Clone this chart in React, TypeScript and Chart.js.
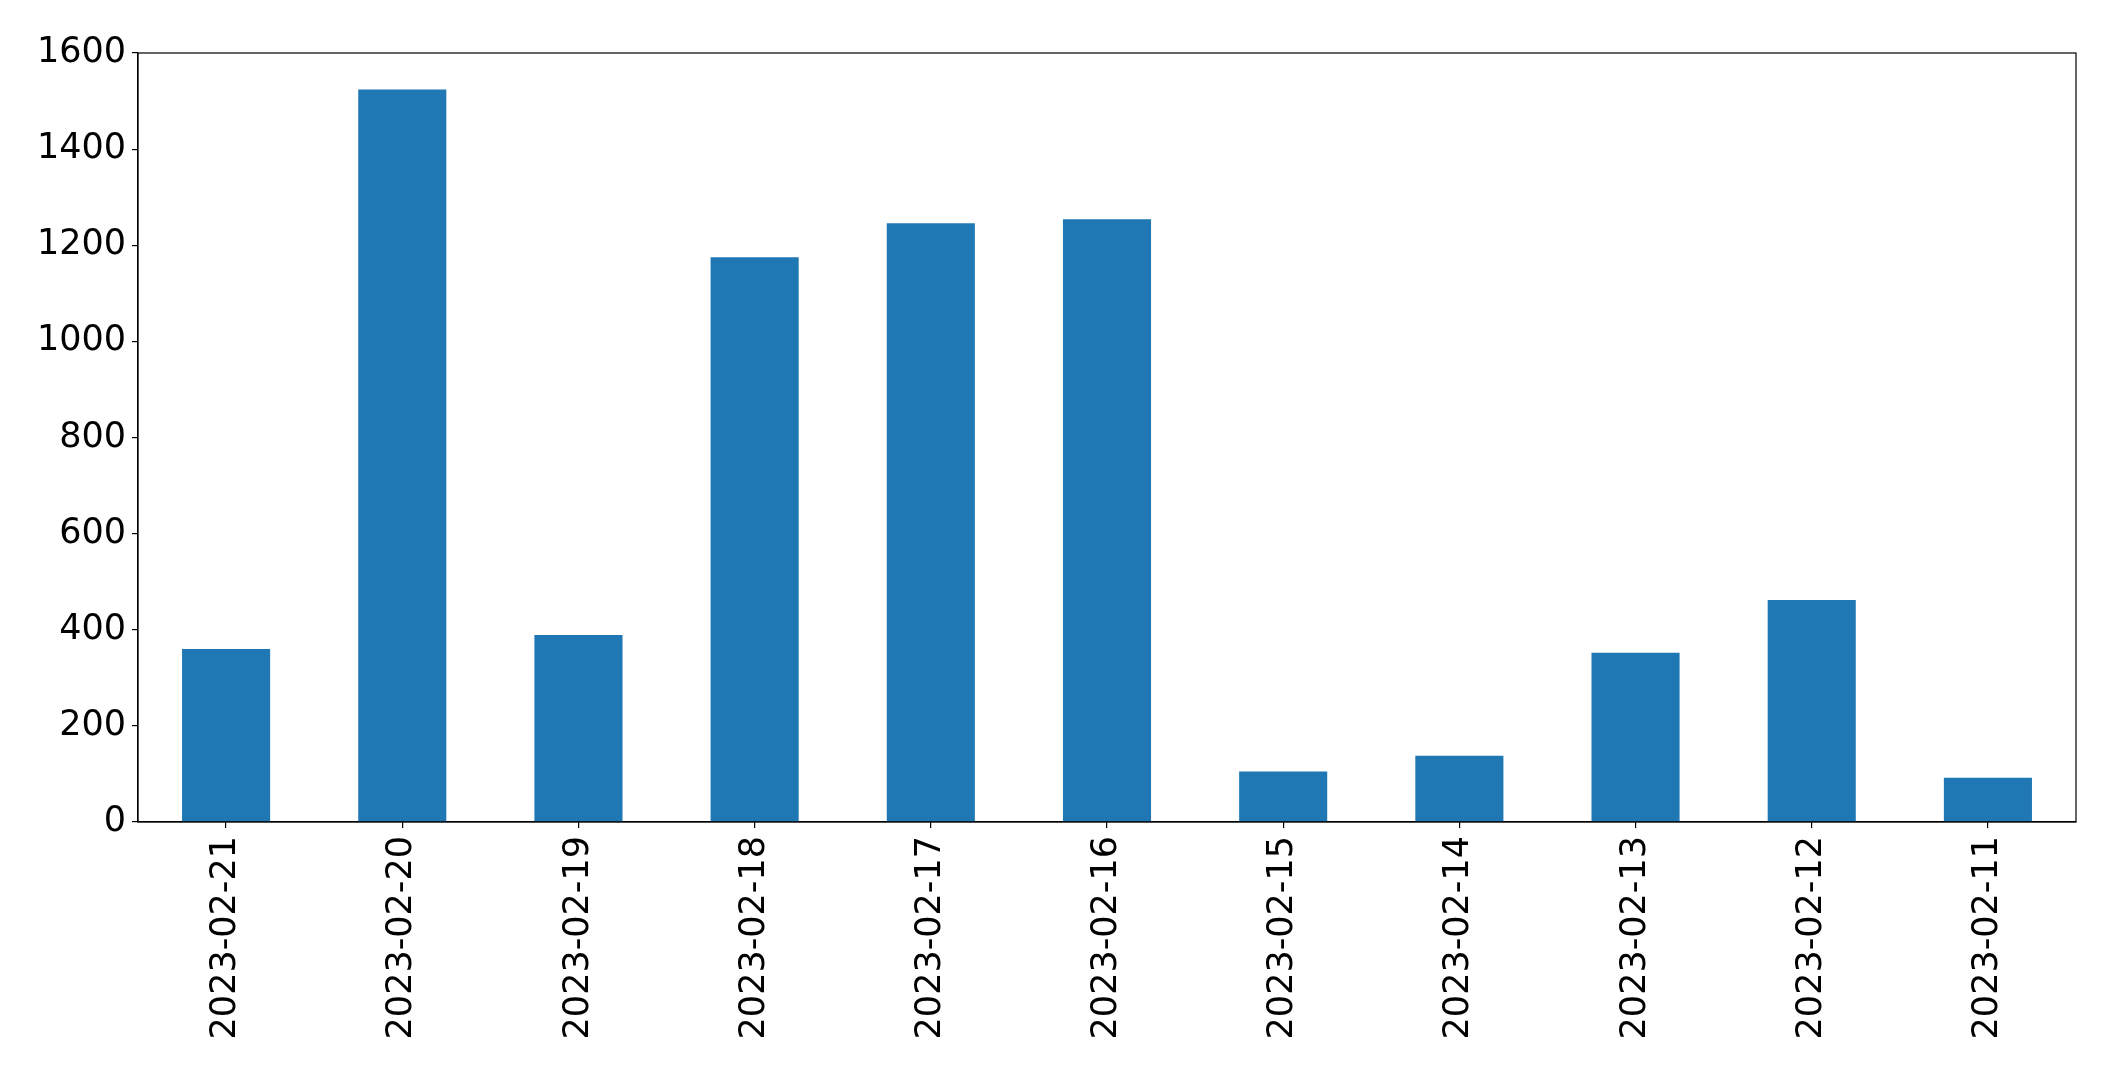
import React, { useEffect, useRef } from "react";
import { Chart, registerables } from "chart.js";

Chart.register(...registerables);

const categories = [
  "2023-02-21", "2023-02-20", "2023-02-19", "2023-02-18", "2023-02-17", "2023-02-16",
  "2023-02-15", "2023-02-14", "2023-02-13", "2023-02-12", "2023-02-11",
];
const values = [360, 1524, 389, 1175, 1246, 1254, 105, 138, 352, 462, 92];
const yMin = 0;
const yMax = 1600;
const yStep = 200;

const framePlugin = {
  id: "frame",
  afterDraw(chart: any) {
    const { ctx, chartArea } = chart;
    ctx.save();
    ctx.strokeStyle = "#000";
    ctx.lineWidth = 1.2;
    ctx.strokeRect(chartArea.left, chartArea.top, chartArea.right - chartArea.left, chartArea.bottom - chartArea.top);
    ctx.restore();
  },
};

export default function App() {
  const ref = useRef<HTMLCanvasElement | null>(null);
  useEffect(() => {
    document.body.style.margin = "0";
    const font = { family: "'DejaVu Sans', sans-serif", size: 35 };
    const chart = new Chart(ref.current as HTMLCanvasElement, {
      type: "bar",
      data: {
        labels: categories,
        datasets: [
          {
            data: values,
            backgroundColor: "#1f77b4",
            barPercentage: 0.5,
            categoryPercentage: 1.0,
          },
        ],
      },
      options: {
        animation: false,
        responsive: false,
        maintainAspectRatio: false,
        layout: { padding: { left: 0, right: 39, top: 53, bottom: 0 } },
        plugins: { legend: { display: false }, tooltip: { enabled: false } },
        scales: {
          x: {
            grid: { offset: false, drawOnChartArea: false, drawTicks: true, tickLength: 6, color: "#000", lineWidth: 1.2 },
            border: { display: true, color: "#000", width: 1.2 },
            ticks: { color: "#000", font, maxRotation: 90, minRotation: 90, padding: 8, autoSkip: false },
            afterFit: (s: any) => { s.height = 252; },
          },
          y: {
            min: yMin,
            max: yMax,
            grid: { drawOnChartArea: false, drawTicks: true, tickLength: 6, color: "#000", lineWidth: 1.2 },
            border: { display: true, color: "#000", width: 1.2 },
            ticks: { color: "#000", font, stepSize: yStep, padding: 6, callback: (v: any) => String(v) },
            afterFit: (s: any) => { s.width = 138; },
          },
        },
      },
      plugins: [framePlugin],
    });
    return () => chart.destroy();
  }, []);
  return (
    <div style={{ position: "fixed", left: 0, top: 0, width: 2115, height: 1074, background: "#fff" }}>
      <canvas ref={ref} width={2115} height={1074} style={{ width: 2115, height: 1074 }} />
    </div>
  );
}
